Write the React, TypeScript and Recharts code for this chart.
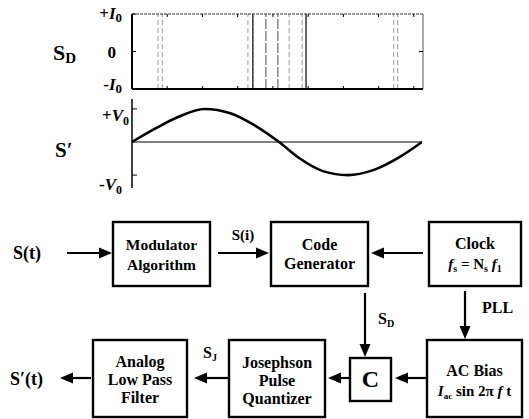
import React from "react";
import { ComposedChart, LineChart, Line, XAxis, YAxis, ReferenceLine } from "recharts";

// time axis in clock units, tick marks every unit
const T_END = 8.26;
const timeTicks = [1, 2, 3, 4, 5, 6, 7, 8];

// S_D pulse train: pulse times
const strongPulses = [3.43, 4.94];
const mediumPulses = [3.8, 4.14];
const faintPulses = [0.74, 0.86, 3.29, 4.46, 4.83, 7.43, 7.54];
const levelTicks = [-1, 0, 1];
const zeroTick = [0];

// reconstructed output S'
const sineT = [0, 0.67, 1.34, 2.06, 2.8, 3.47, 4.19, 4.77, 5.44, 6.15, 6.87, 7.63, 8.26];
const sineV = [0, 0.41, 0.77, 1.0, 0.87, 0.52, 0, -0.49, -0.88, -1.0, -0.85, -0.45, 0];
const voltTicks = [-1, 1];

const pulseRows = [...faintPulses, ...mediumPulses, ...strongPulses].map((t) => ({ t }));
const sineRows = sineT.map((t, i) => ({ t, v: sineV[i] }));

const FONT = '"Liberation Serif", "Times New Roman", serif';
const BLACK = "#000";
const serif = { fontFamily: FONT };

const noTick = () => <g />;

const LevelTick = (props: any) => {
  const { x, y, payload } = props;
  const v = payload.value;
  const ax = x - 4;
  if (v === 0) {
    return (
      <text x={ax - 16} y={y + 6} textAnchor="end" style={serif} fontWeight="bold" fontSize={17}>
        0
      </text>
    );
  }
  return (
    <text x={ax - 10} y={v > 0 ? y + 5 : y + 1} textAnchor="end" style={serif} fontWeight="bold" fontSize={17}>
      {v > 0 ? "+" : "-"}
      <tspan fontStyle="italic">I</tspan>
      <tspan fontSize={13} dy={3}>0</tspan>
    </text>
  );
};

const VoltTick = (props: any) => {
  const { x, y, payload } = props;
  const v = payload.value;
  const ax = x - 5;
  return (
    <text x={v > 0 ? ax - 3 : ax - 10} y={v > 0 ? y + 12 : y + 15} textAnchor="end" style={serif} fontWeight="bold" fontSize={17}>
      {v > 0 ? "+" : "-"}
      <tspan fontStyle="italic">V</tspan>
      <tspan fontSize={12} dy={4}>0</tspan>
    </text>
  );
};

function Arrow({ x1, y1, x2, y2 }: { x1: number; y1: number; x2: number; y2: number }) {
  const dx = x2 - x1;
  const dy = y2 - y1;
  const len = Math.hypot(dx, dy);
  const ux = dx / len;
  const uy = dy / len;
  const hl = 13;
  const hw = 5.5;
  const bx = x2 - ux * hl;
  const by = y2 - uy * hl;
  const px = -uy * hw;
  const py = ux * hw;
  return (
    <g>
      <line x1={x1} y1={y1} x2={bx + ux * 2} y2={by + uy * 2} stroke={BLACK} strokeWidth={2.2} />
      <polygon points={`${x2},${y2} ${bx + px},${by + py} ${bx - px},${by - py}`} fill={BLACK} />
    </g>
  );
}

function Box({ x, y, w, h }: { x: number; y: number; w: number; h: number }) {
  return <rect x={x} y={y} width={w} height={h} fill="none" stroke={BLACK} strokeWidth={2.4} />;
}

const T = (props: any) => (
  <text style={serif} fontWeight="bold" fontSize={16} textAnchor="middle" {...props} />
);

const Diagram = () => (
  <svg width={529} height={419} style={{ position: "absolute", left: 0, top: 0 }}>
    {/* chart side labels */}
    <T x={53} y={60} fontSize={22} textAnchor="start">
      S<tspan fontSize={15} dy={3}>D</tspan>
    </T>
    <T x={55} y={157} fontSize={21} textAnchor="start">S′</T>

    {/* top row */}
    <T x={13} y={259} fontSize={18} textAnchor="start">S(t)</T>
    <Arrow x1={67} y1={253} x2={112} y2={253} />
    <Box x={113} y={222} w={97} h={64} />
    <T x={161.5} y={249.5} fontSize={15.5}>Modulator</T>
    <T x={161.5} y={269.5} fontSize={15.5}>Algorithm</T>
    <T x={243} y={240} fontSize={15}>S(i)</T>
    <Arrow x1={218} y1={253} x2={269} y2={253} />
    <Box x={271} y={222} w={97} h={64} />
    <T x={319.5} y={250}>Code</T>
    <T x={319.5} y={268.5}>Generator</T>
    <Arrow x1={423} y1={253} x2={371} y2={253} />
    <Box x={429} y={222} w={92} h={64} />
    <T x={475} y={248.5}>Clock</T>
    <T x={475} y={268.5} fontSize={15}>
      <tspan fontStyle="italic">f</tspan>
      <tspan fontSize={10} dy={3}>s</tspan>
      <tspan dy={-3}> = N</tspan>
      <tspan fontSize={10} dy={3}>s</tspan>
      <tspan dy={-3} fontStyle="italic"> f</tspan>
      <tspan fontSize={10} dy={3}>1</tspan>
    </T>

    {/* vertical links */}
    <Arrow x1={365} y1={293} x2={365} y2={357} />
    <T x={378} y={324} fontSize={16} textAnchor="start">
      S<tspan fontSize={10} dy={3}>D</tspan>
    </T>
    <Arrow x1={465} y1={291} x2={465} y2={339} />
    <T x={482} y={313} fontSize={16} textAnchor="start">PLL</T>

    {/* bottom row */}
    <T x={10} y={385} fontSize={18} textAnchor="start">S′(t)</T>
    <Arrow x1={91} y1={378} x2={60} y2={378} />
    <Box x={93} y={340} w={94} h={77} />
    <T x={140} y={367}>Analog</T>
    <T x={140} y={385}>Low Pass</T>
    <T x={140} y={403}>Filter</T>
    <T x={203} y={358} fontSize={16} textAnchor="start">
      S<tspan fontSize={10} dy={3}>J</tspan>
    </T>
    <Arrow x1={228} y1={378} x2={194} y2={378} />
    <Box x={229} y={340} w={96} h={77} />
    <T x={277} y={367.5}>Josephson</T>
    <T x={277} y={385.5}>Pulse</T>
    <T x={277} y={404}>Quantizer</T>
    <Arrow x1={349} y1={378} x2={328} y2={378} />
    <Box x={350} y={358} w={41} h={43} />
    <T x={370.5} y={387} fontSize={24}>C</T>
    <Arrow x1={426} y1={378} x2={395} y2={378} />
    <Box x={427} y={340} w={95} h={77} />
    <T x={474.5} y={375.5}>AC Bias</T>
    <T x={474.5} y={395.5} fontSize={15}>
      <tspan fontStyle="italic">I</tspan>
      <tspan fontSize={9} dy={3}>ac</tspan>
      <tspan dy={-3}> sin 2π </tspan>
      <tspan fontStyle="italic">f</tspan>
      <tspan> t</tspan>
    </T>
  </svg>
);

export default function App() {
  return (
    <div style={{ position: "absolute", left: 0, top: 0, width: 529, height: 419, background: "#fff" }}>
      <div style={{ position: "absolute", left: 0, top: 0 }}>
        <ComposedChart width={529} height={100} data={pulseRows} margin={{ top: 14, right: 106, bottom: 11, left: 132 }}>
          <XAxis xAxisId="b" type="number" dataKey="t" domain={[0, T_END]} ticks={timeTicks} height={1} mirror tickSize={3} tickMargin={0} tick={noTick} axisLine={{ stroke: BLACK, strokeWidth: 2 }} tickLine={{ stroke: BLACK }} allowDataOverflow />
          <XAxis xAxisId="t" orientation="top" type="number" dataKey="t" domain={[0, T_END]} ticks={timeTicks} height={1} mirror tickSize={3} tickMargin={0} tick={noTick} axisLine={{ stroke: "#333", strokeWidth: 1.2, strokeDasharray: "3 1" }} tickLine={{ stroke: BLACK }} allowDataOverflow />
          <YAxis yAxisId="l" type="number" domain={[-1, 1]} ticks={levelTicks} width={1} mirror tickSize={4} tickMargin={0} tick={LevelTick} axisLine={{ stroke: BLACK, strokeWidth: 2 }} tickLine={{ stroke: BLACK }} allowDataOverflow />
          <YAxis yAxisId="r" orientation="right" type="number" domain={[-1, 1]} ticks={zeroTick} width={1} mirror tickSize={4} tickMargin={0} tick={noTick} axisLine={{ stroke: "#555", strokeWidth: 1 }} tickLine={{ stroke: BLACK }} allowDataOverflow />
          {faintPulses.map((t) => (
            <ReferenceLine key={`f${t}`} xAxisId="b" yAxisId="l" x={t} stroke="#9a9a9a" strokeWidth={1} strokeDasharray="5 3" />
          ))}
          {mediumPulses.map((t) => (
            <ReferenceLine key={`m${t}`} xAxisId="b" yAxisId="l" x={t} stroke="#6a6a6a" strokeWidth={1.2} strokeDasharray="10 2" />
          ))}
          {strongPulses.map((t) => (
            <ReferenceLine key={`s${t}`} xAxisId="b" yAxisId="l" x={t} stroke="#333" strokeWidth={1.5} />
          ))}
        </ComposedChart>
      </div>
      <div style={{ position: "absolute", left: 0, top: 90 }}>
        <LineChart width={529} height={110} data={sineRows} margin={{ top: 9, right: 107, bottom: 12, left: 132 }}>
          <XAxis type="number" dataKey="t" domain={[0, T_END]} hide allowDataOverflow />
          <YAxis type="number" domain={[-1.39, 1.3]} ticks={voltTicks} width={1} mirror tickSize={5} tickMargin={0} tick={VoltTick} axisLine={{ stroke: BLACK, strokeWidth: 1.5 }} tickLine={{ stroke: BLACK }} allowDataOverflow />
          <ReferenceLine y={0} stroke={BLACK} strokeWidth={1} />
          <Line dataKey="v" type="monotone" stroke={BLACK} strokeWidth={2.6} dot={false} isAnimationActive={false} />
        </LineChart>
      </div>
      <Diagram />
    </div>
  );
}
